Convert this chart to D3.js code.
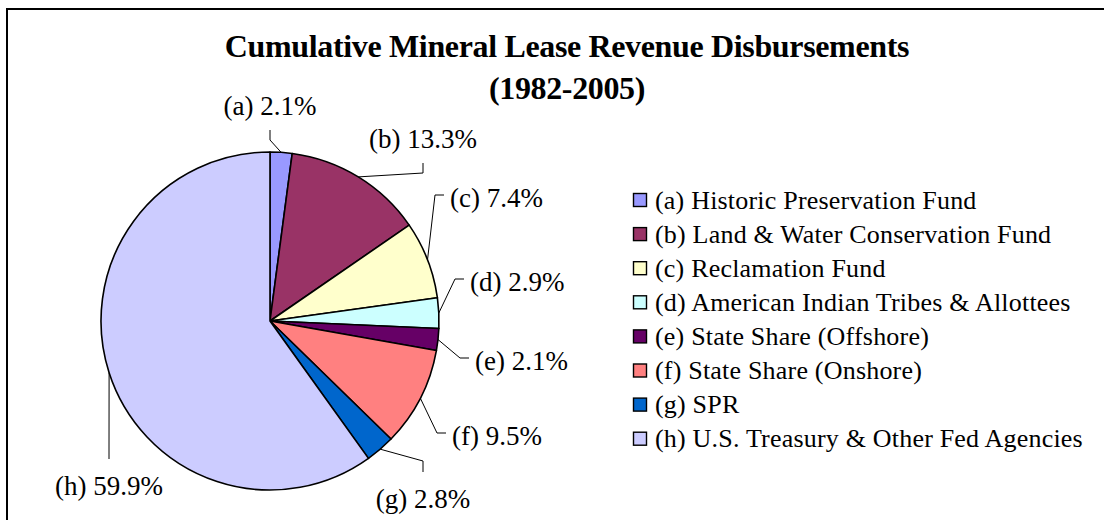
<!DOCTYPE html>
<html>
<head>
<meta charset="utf-8">
<script src="https://cdn.jsdelivr.net/npm/d3@7"></script>
<style>
  body { margin: 0; background: #fff; }
  svg text { font-family: "Liberation Serif", "Times New Roman", serif; fill: #000; }
</style>
</head>
<body>
<div id="chart"></div>
<script>
// chart data
const keys = ["a", "b", "c", "d", "e", "f", "g", "h"];
const categories = [
  "Historic Preservation Fund",
  "Land & Water Conservation Fund",
  "Reclamation Fund",
  "American Indian Tribes & Allottees",
  "State Share (Offshore)",
  "State Share (Onshore)",
  "SPR",
  "U.S. Treasury & Other Fed Agencies"
];
const shares = [2.1, 13.3, 7.4, 2.9, 2.1, 9.5, 2.8, 59.9];
const colors = ["#9999FF", "#993366", "#FFFFCC", "#CCFFFF", "#660066", "#FF8080", "#0066CC", "#CCCCFF"];

// where each data label sits, relative to the pie centre
const labelLayout = [
  {side: "top",    dx: 0,    dy: -206},
  {side: "top",    dx: 153,  dy: -173},
  {side: "right",  dx: 180,  dy: -114},
  {side: "right",  dx: 200,  dy: -30},
  {side: "right",  dx: 205,  dy: 49},
  {side: "right",  dx: 182,  dy: 124},
  {side: "bottom", dx: 153,  dy: 187},
  {side: "bottom", dx: -161, dy: 174}
];

const W = 1104, H = 520;
const cx = 270, cy = 321, radius = 169;

const svg = d3.select("#chart").append("svg")
  .attr("width", W)
  .attr("height", H);

// chart area border (runs off the right / bottom edge)
svg.append("rect")
  .attr("x", 7).attr("y", 9)
  .attr("width", 1200).attr("height", 600)
  .attr("fill", "#fff")
  .attr("stroke", "#000")
  .attr("stroke-width", 2);

// title
const title = svg.append("text")
  .attr("text-anchor", "middle")
  .attr("font-weight", "bold")
  .attr("font-size", 32)
  .attr("letter-spacing", -0.35);
title.append("tspan").attr("x", 567).attr("y", 57).text("Cumulative Mineral Lease Revenue Disbursements");
title.append("tspan").attr("x", 567).attr("y", 99).text("(1982-2005)");

const data = keys.map((k, i) => ({key: k, name: categories[i], value: shares[i], color: colors[i], layout: labelLayout[i]}));

const pie = d3.pie().value(d => d.value).sort(null);
const arc = d3.arc().innerRadius(0).outerRadius(radius);
const arcs = pie(data);

const g = svg.append("g").attr("transform", `translate(${cx},${cy})`);

g.selectAll("path.slice")
  .data(arcs)
  .enter()
  .append("path")
    .attr("class", "slice")
    .attr("d", arc)
    .attr("fill", d => d.data.color)
    .attr("stroke", "#000")
    .attr("stroke-width", 1.6)
    .attr("stroke-linejoin", "round");

// data labels + leader lines
const labelSize = 27;
arcs.forEach(a => {
  const L = a.data.layout;
  const mid = (a.startAngle + a.endAngle) / 2;
  const px = radius * Math.sin(mid), py = -radius * Math.cos(mid);

  g.append("text")
    .attr("x", L.dx).attr("y", L.dy)
    .attr("font-size", labelSize)
    .attr("text-anchor", L.side === "right" ? "start" : "middle")
    .text(`(${a.data.key}) ${a.data.value.toFixed(1)}%`);

  let ax, ay, ex, ey;
  if (L.side === "right") {
    ax = L.dx - 6; ay = L.dy - 12; ex = ax - 9; ey = ay;
  } else if (L.side === "top") {
    ax = L.dx; ay = L.dy + 15; ex = ax; ey = ay + 10;
  } else {
    ax = L.dx; ay = L.dy - 36; ex = ax; ey = ay - 11;
  }

  g.append("path")
    .attr("d", d3.line()([[ax, ay], [ex, ey], [px, py]]))
    .attr("fill", "none")
    .attr("stroke", "#000")
    .attr("stroke-width", 1);
});

// legend
const legend = svg.append("g").attr("transform", "translate(633,200)");
const rowH = 34.1;
const item = legend.selectAll("g.item")
  .data(data)
  .enter()
  .append("g")
    .attr("class", "item")
    .attr("transform", (d, i) => `translate(0,${i * rowH})`);

item.append("rect")
  .attr("x", 0.5).attr("y", -6.5)
  .attr("width", 13).attr("height", 13)
  .attr("fill", d => d.color)
  .attr("stroke", "#000")
  .attr("stroke-width", 1.4);

item.append("text")
  .attr("x", 22).attr("y", 8.5)
  .attr("font-size", 26)
  .attr("letter-spacing", 0.2)
  .text(d => `(${d.key}) ${d.name}`);
</script>
</body>
</html>
